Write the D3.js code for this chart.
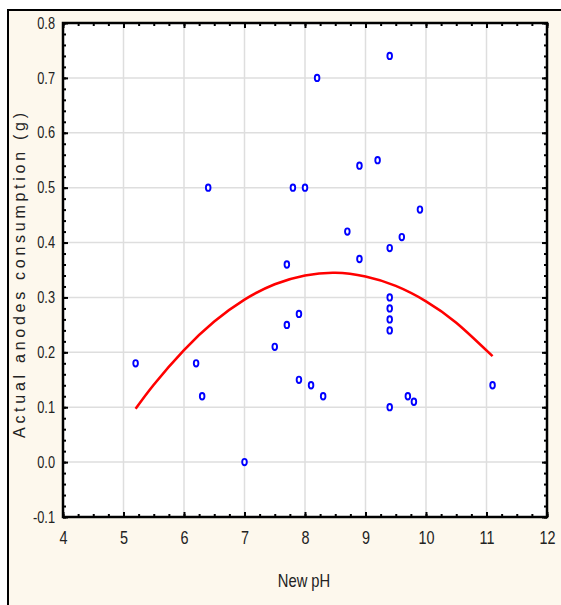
<!DOCTYPE html>
<html>
<head>
<meta charset="utf-8">
<script src="https://cdn.jsdelivr.net/npm/d3@7"></script>
<style>
  html, body { margin: 0; padding: 0; background: #ffffff; }
  svg { display: block; }
</style>
</head>
<body>
<svg id="chart" width="561" height="605"></svg>
<script>
// ---- data ----
const phValues = [5.2, 6.2, 6.3, 6.4, 7.0, 7.5, 7.7, 7.7, 7.8, 7.9, 7.9, 8.0, 8.1, 8.2, 8.3,
                  8.7, 8.9, 8.9, 9.2, 9.4, 9.4, 9.4, 9.4, 9.4, 9.4, 9.4, 9.6, 9.7, 9.8, 9.9, 11.1];
const consumption = [0.18, 0.18, 0.12, 0.50, 0.00, 0.21, 0.25, 0.36, 0.50, 0.27, 0.15, 0.50, 0.14, 0.70, 0.12,
                     0.42, 0.54, 0.37, 0.55, 0.74, 0.39, 0.30, 0.28, 0.26, 0.24, 0.10, 0.41, 0.12, 0.11, 0.46, 0.14];
// fitted curve
const fitPh = [5.2, 5.5, 6.0, 6.5, 7.0, 7.5, 8.0, 8.5, 9.0, 9.5, 10.0, 10.5, 11.1];
const fitValue = [0.097, 0.141, 0.204, 0.256, 0.296, 0.324, 0.340, 0.345, 0.338, 0.321, 0.293, 0.254, 0.193];

const xTicks = [4, 5, 6, 7, 8, 9, 10, 11, 12];
const xTickLabels = ["4", "5", "6", "7", "8", "9", "10", "11", "12"];
const yTicks = [-0.1, 0.0, 0.1, 0.2, 0.3, 0.4, 0.5, 0.6, 0.7, 0.8];
const yTickLabels = ["-0.1", "0.0", "0.1", "0.2", "0.3", "0.4", "0.5", "0.6", "0.7", "0.8"];
const xMinorTicks = d3.range(4, 12.001, 0.25);
const yMinorTicks = d3.range(-0.1, 0.8001, 0.02);

const xTitle = "New pH";
const yTitle = "Actual anodes consumption (g)";

// ---- layout ----
const svg = d3.select("#chart");
const L = 63, R = 547, T = 23, B = 517;
const font = "'Liberation Sans', Arial, sans-serif";
const squeeze = 0.8;

const x = d3.scaleLinear().domain([4, 12]).range([L, R]);
const y = d3.scaleLinear().domain([-0.1, 0.8]).range([B, T]);

// outer frame
svg.append("rect").attr("x", 8).attr("y", 10).attr("width", 560).attr("height", 600).attr("fill", "#fdf8ed");
svg.append("line").attr("x1", 7).attr("x2", 561).attr("y1", 10).attr("y2", 10).attr("stroke", "#000").attr("stroke-width", 2);
svg.append("line").attr("x1", 8).attr("x2", 8).attr("y1", 9).attr("y2", 605).attr("stroke", "#000").attr("stroke-width", 2);

// plot area
svg.append("rect").attr("x", L).attr("y", T).attr("width", R - L).attr("height", B - T).attr("fill", "#ffffff");

// grid
const grid = svg.append("g").attr("stroke", "#dedede").attr("stroke-width", 1.5);
grid.selectAll("line.gx").data(xTicks.slice(1, -1)).join("line")
  .attr("x1", d => x(d)).attr("x2", d => x(d)).attr("y1", T).attr("y2", B);
grid.selectAll("line.gy").data(yTicks.slice(1, -1)).join("line")
  .attr("y1", d => y(d)).attr("y2", d => y(d)).attr("x1", L).attr("x2", R);

// axes
function styleAxis(g) {
  g.select(".domain").remove();
  g.selectAll(".tick line").attr("stroke", "#000").attr("stroke-width", 2);
}
// minor ticks
svg.append("g").attr("transform", `translate(0,${B})`)
  .call(d3.axisBottom(x).tickValues(xMinorTicks).tickSize(-3).tickFormat(""))
  .call(styleAxis);
svg.append("g").attr("transform", `translate(0,${T})`)
  .call(d3.axisTop(x).tickValues(xMinorTicks).tickSize(-3).tickFormat(""))
  .call(styleAxis);
svg.append("g").attr("transform", `translate(${L},0)`)
  .call(d3.axisLeft(y).tickValues(yMinorTicks).tickSize(-3).tickFormat(""))
  .call(styleAxis);
svg.append("g").attr("transform", `translate(${R},0)`)
  .call(d3.axisRight(y).tickValues(yMinorTicks).tickSize(-3).tickFormat(""))
  .call(styleAxis);

// major ticks with labels
const xAxis = svg.append("g").attr("transform", `translate(0,${B})`)
  .call(d3.axisBottom(x).tickValues(xTicks).tickSize(-5).tickPadding(14)
    .tickFormat((d, i) => xTickLabels[i]))
  .call(styleAxis);
xAxis.selectAll("text").attr("font-family", font).attr("font-size", 18).attr("fill", "#222")
  .attr("transform", `scale(${squeeze},1)`);

const yAxis = svg.append("g").attr("transform", `translate(${L},0)`)
  .call(d3.axisLeft(y).tickValues(yTicks).tickSize(-5).tickPadding(8)
    .tickFormat((d, i) => yTickLabels[i]))
  .call(styleAxis);
yAxis.selectAll("text").attr("font-family", font).attr("font-size", 16).attr("fill", "#222")
  .attr("x", -8 / squeeze).attr("transform", `scale(${squeeze},1)`);

svg.append("g").attr("transform", `translate(0,${T})`)
  .call(d3.axisTop(x).tickValues(xTicks).tickSize(-5).tickFormat(""))
  .call(styleAxis);
svg.append("g").attr("transform", `translate(${R},0)`)
  .call(d3.axisRight(y).tickValues(yTicks).tickSize(-5).tickFormat(""))
  .call(styleAxis);

// plot border
svg.append("rect").attr("x", L).attr("y", T).attr("width", R - L).attr("height", B - T)
  .attr("fill", "none").attr("stroke", "#000").attr("stroke-width", 2.5);

// fitted curve
const line = d3.line().x((d, i) => x(fitPh[i])).y((d, i) => y(fitValue[i])).curve(d3.curveNatural);
svg.append("path").datum(fitValue).attr("d", line)
  .attr("fill", "none").attr("stroke", "#ff0000").attr("stroke-width", 2.6);

// points
svg.append("g").selectAll("ellipse").data(phValues).join("ellipse")
  .attr("cx", (d, i) => x(phValues[i]))
  .attr("cy", (d, i) => y(consumption[i]))
  .attr("rx", 2.3).attr("ry", 3.2)
  .attr("fill", "#ffffff").attr("stroke", "#0000ff").attr("stroke-width", 1.9);

// titles
svg.append("text").attr("transform", `translate(304,587) scale(0.82,1)`).attr("text-anchor", "middle")
  .attr("font-family", font).attr("font-size", 18).attr("fill", "#222").text(xTitle);

svg.append("text").attr("transform", "translate(25,275.5) rotate(-90)")
  .attr("text-anchor", "middle")
  .attr("textLength", 325).attr("lengthAdjust", "spacing")
  .attr("font-family", font).attr("font-size", 16)
  .attr("fill", "#222").text(yTitle);
</script>
</body>
</html>
